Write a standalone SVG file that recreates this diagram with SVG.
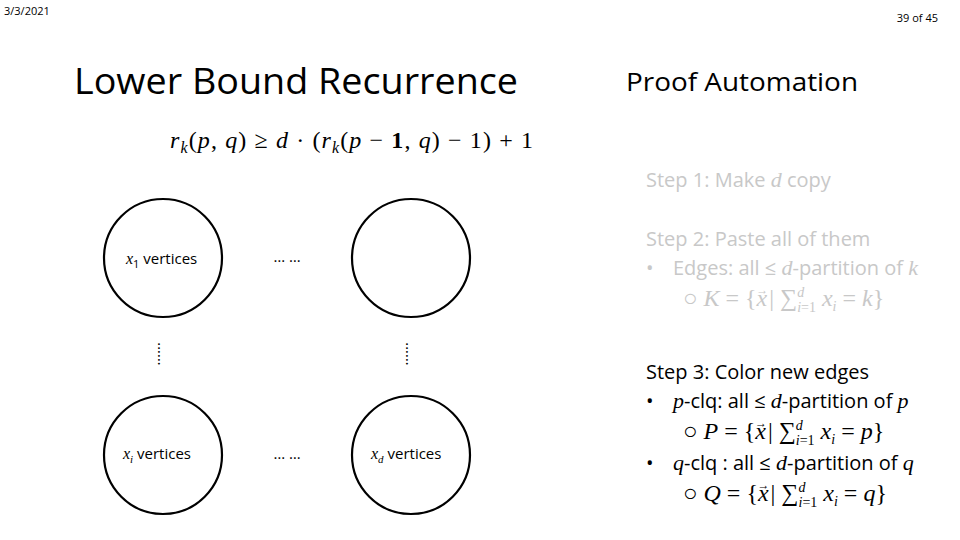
<svg xmlns="http://www.w3.org/2000/svg" width="960" height="540" viewBox="0 0 960 540">
<style>
.s{font-family:"Open Sans","Liberation Sans",sans-serif}
.m{font-family:"Liberation Serif","DejaVu Serif",serif;font-style:italic}
.c{fill:#fff;stroke:#000;stroke-width:2.2}
.g{fill:#c8c8c8}
.k{fill:#000}
.lbl{font-family:"Open Sans","Liberation Sans",sans-serif;font-size:15px}
</style>
<rect width="960" height="540" fill="#fff"/>
<text class="s" x="4" y="15" font-size="11">3/3/2021</text>
<text class="s" x="938" y="22" font-size="11" text-anchor="end">39 of 45</text>
<text class="s" x="74" y="94" font-size="36" textLength="444" lengthAdjust="spacingAndGlyphs">Lower Bound Recurrence</text>
<text class="s" x="626" y="91" font-size="26" textLength="232" lengthAdjust="spacingAndGlyphs">Proof Automation</text>
<text x="170" y="148" font-size="24" font-family="Liberation Serif,serif" textLength="363"><tspan font-style="italic">r</tspan><tspan font-style="italic" font-size="16" dy="5">k</tspan><tspan dy="-5">(</tspan><tspan font-style="italic">p</tspan>, <tspan font-style="italic">q</tspan>) ≥ <tspan font-style="italic">d</tspan> · (<tspan font-style="italic">r</tspan><tspan font-style="italic" font-size="16" dy="5">k</tspan><tspan dy="-5">(</tspan><tspan font-style="italic">p</tspan> − <tspan font-weight="bold">1</tspan>, <tspan font-style="italic">q</tspan>) − 1) + 1</text>
<g id="n1"><circle class="c" cx="163" cy="258" r="59"/><text class="lbl" x="126" y="264"><tspan class="m" font-size="16">x</tspan><tspan font-size="11" dy="4">1</tspan><tspan dy="-4"> vertices</tspan></text></g>
<g id="n2"><circle class="c" cx="411" cy="258" r="59"/></g>
<g id="n3"><circle class="c" cx="163" cy="455" r="59"/><text class="lbl" x="123" y="459"><tspan class="m" font-size="16">x</tspan><tspan class="m" font-size="11" dy="4">i</tspan><tspan dy="-4"> vertices</tspan></text></g>
<g id="n4"><circle class="c" cx="411" cy="455" r="59"/><text class="lbl" x="371" y="459"><tspan class="m" font-size="16">x</tspan><tspan class="m" font-size="11" dy="4">d</tspan><tspan dy="-4"> vertices</tspan></text></g>
<g id="connectors" class="lbl">
<text x="287" y="262" text-anchor="middle">… …</text>
<text x="287" y="459" text-anchor="middle">… …</text>
<text transform="translate(158,354) rotate(90)" text-anchor="middle">……</text>
<text transform="translate(406,354) rotate(90)" text-anchor="middle">……</text>
</g>
<g class="s g" font-size="20">
<text x="646" y="187">Step 1: Make <tspan class="m" font-size="22">d</tspan> copy</text>
<text x="646" y="246">Step 2: Paste all of them</text>
<text x="646" y="275">•</text>
<text x="673" y="275">Edges: all ≤ <tspan class="m" font-size="22">d</tspan>-partition of <tspan class="m" font-size="22">k</tspan></text>
<text x="683" y="306" font-size="24" font-family="Liberation Serif,serif">○  <tspan class="m">K</tspan> = {<tspan class="m">x</tspan><tspan font-size="12" dx="-11" dy="-12">→</tspan><tspan dy="12" dx="1">| ∑</tspan><tspan font-size="14" class="m" dy="-9">d</tspan><tspan font-size="14" class="m" dx="-7" dy="15">i</tspan><tspan font-size="14">=1</tspan><tspan dy="-6"> </tspan><tspan class="m">x</tspan><tspan class="m" font-size="14" dy="5">i</tspan><tspan dy="-5"> = </tspan><tspan class="m">k</tspan>}</text>
</g>
<g class="s k" font-size="20">
<text x="646" y="379">Step 3: Color new edges</text>
<text x="646" y="408">•</text>
<text x="673" y="408"><tspan class="m" font-size="22">p</tspan>-clq: all ≤ <tspan class="m" font-size="22">d</tspan>-partition of <tspan class="m" font-size="22">p</tspan></text>
<text x="683" y="439" font-size="24" font-family="Liberation Serif,serif">○  <tspan class="m">P</tspan> = {<tspan class="m">x</tspan><tspan font-size="12" dx="-11" dy="-12">→</tspan><tspan dy="12" dx="1">| ∑</tspan><tspan font-size="14" class="m" dy="-9">d</tspan><tspan font-size="14" class="m" dx="-7" dy="15">i</tspan><tspan font-size="14">=1</tspan><tspan dy="-6"> </tspan><tspan class="m">x</tspan><tspan class="m" font-size="14" dy="5">i</tspan><tspan dy="-5"> = </tspan><tspan class="m">p</tspan>}</text>
<text x="646" y="470">•</text>
<text x="673" y="470"><tspan class="m" font-size="22">q</tspan>-clq : all ≤ <tspan class="m" font-size="22">d</tspan>-partition of <tspan class="m" font-size="22">q</tspan></text>
<text x="683" y="501" font-size="24" font-family="Liberation Serif,serif">○  <tspan class="m">Q</tspan> = {<tspan class="m">x</tspan><tspan font-size="12" dx="-11" dy="-12">→</tspan><tspan dy="12" dx="1">| ∑</tspan><tspan font-size="14" class="m" dy="-9">d</tspan><tspan font-size="14" class="m" dx="-7" dy="15">i</tspan><tspan font-size="14">=1</tspan><tspan dy="-6"> </tspan><tspan class="m">x</tspan><tspan class="m" font-size="14" dy="5">i</tspan><tspan dy="-5"> = </tspan><tspan class="m">q</tspan>}</text>
</g>
</svg>
